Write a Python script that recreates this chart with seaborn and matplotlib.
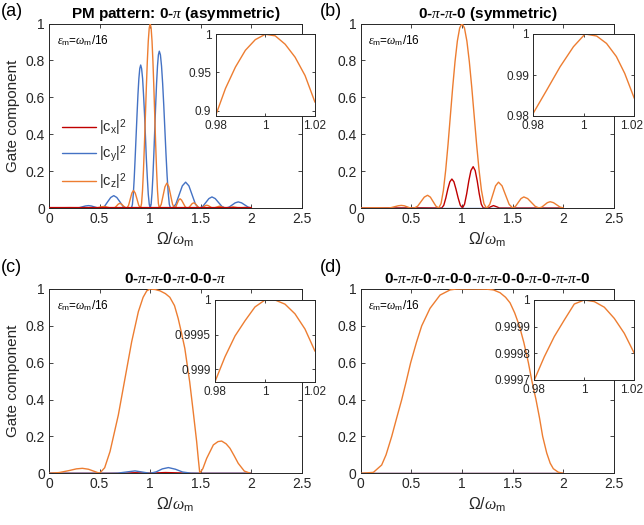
import matplotlib
matplotlib.use("Agg")
import matplotlib.pyplot as plt
import seaborn as sns
from matplotlib.ticker import FormatStrFormatter
from matplotlib.transforms import ScaledTranslation

# =========================
# DADOS
# =========================

# (a) PM pattern 0-pi
a_cx_x = [0, 2.0]
a_cx = [0, 0]
a_cy_x = [0, 0.15, 0.27, 0.30, 0.33, 0.36, 0.39, 0.418, 0.445, 0.473, 0.50,
          0.52, 0.55, 0.58, 0.61, 0.64, 0.67, 0.70, 0.73, 0.76, 0.79,
          0.815, 0.824, 0.833, 0.842, 0.851, 0.8605, 0.870, 0.879, 0.888, 0.897, 0.906,
          0.915, 0.925, 0.934, 0.944, 0.953, 0.962, 0.972, 0.981, 0.991, 1.0,
          1.009, 1.018, 1.027, 1.036, 1.045, 1.054, 1.063, 1.072, 1.081, 1.09,
          1.101, 1.112, 1.123, 1.134, 1.145, 1.156, 1.167, 1.178, 1.189, 1.2,
          1.22, 1.2525, 1.285, 1.3175, 1.35, 1.3825, 1.415, 1.4475, 1.48,
          1.49, 1.52, 1.55, 1.58, 1.61, 1.6425, 1.675, 1.7075, 1.74,
          1.75, 1.78, 1.81, 1.84, 1.87, 1.9025, 1.935, 1.9675, 2.0]
a_cy = [0, 0.001, 0, 0.002, 0.0065, 0.011, 0.013, 0.011, 0.0065, 0.002, 0,
        0, 0.010, 0.034, 0.057, 0.067, 0.057, 0.034, 0.010, 0, 0.001,
        0, 0.019, 0.074, 0.160, 0.267, 0.388, 0.508, 0.615, 0.701, 0.756, 0.775,
        0.756, 0.701, 0.615, 0.508, 0.388, 0.267, 0.160, 0.074, 0.019, 0,
        0.020, 0.081, 0.175, 0.293, 0.425, 0.557, 0.675, 0.769, 0.830, 0.85,
        0.830, 0.769, 0.675, 0.557, 0.425, 0.293, 0.175, 0.081, 0.020, 0,
        0, 0.020, 0.07, 0.12, 0.14, 0.12, 0.07, 0.020, 0,
        0, 0.009, 0.03, 0.051, 0.06, 0.051, 0.03, 0.009, 0,
        0, 0.005, 0.0165, 0.028, 0.033, 0.028, 0.0165, 0.005, 0]
a_cz_x = [0, 0.2, 0.46, 0.48, 0.50, 0.52, 0.54, 0.56, 0.58, 0.60, 0.62,
          0.64, 0.655, 0.67, 0.685, 0.70, 0.716, 0.7325, 0.749, 0.765,
          0.77, 0.786, 0.8025, 0.819, 0.835, 0.852, 0.87, 0.887, 0.905,
          0.9145, 0.924, 0.9335, 0.943, 0.9525, 0.962, 0.9715, 0.981, 0.9905, 1.0,
          1.009, 1.018, 1.027, 1.036, 1.045, 1.054, 1.063, 1.072, 1.081, 1.09,
          1.109, 1.1275, 1.146, 1.165, 1.184, 1.2025, 1.221, 1.24,
          1.254, 1.2675, 1.281, 1.295, 1.31, 1.3275, 1.345, 1.36,
          1.37, 1.385, 1.40, 1.415, 1.43, 1.445, 1.46, 1.475, 1.49,
          1.5, 1.515, 1.53, 1.545, 1.56, 1.575, 1.59, 1.605, 1.62,
          1.63, 1.6575, 1.685, 1.7125, 1.74, 1.76, 1.79, 1.82, 1.85, 1.88, 1.94, 2.0]
a_cz = [0, 0.002, 0, 0.0012, 0.004, 0.0068, 0.008, 0.0068, 0.004, 0.0012, 0,
        0, 0.0037, 0.0125, 0.0214, 0.025, 0.0214, 0.0125, 0.0037, 0,
        0, 0.0139, 0.0475, 0.0811, 0.095, 0.0811, 0.0475, 0.0139, 0,
        0.024, 0.095, 0.206, 0.345, 0.5, 0.655, 0.794, 0.905, 0.976, 1.0,
        0.976, 0.905, 0.794, 0.655, 0.5, 0.345, 0.206, 0.095, 0.024, 0,
        0.0197, 0.0675, 0.1153, 0.135, 0.1153, 0.0675, 0.0197, 0,
        0.0073, 0.025, 0.0427, 0.05, 0.0427, 0.025, 0.0073, 0,
        0, 0.0041, 0.014, 0.0239, 0.028, 0.0239, 0.014, 0.0041, 0,
        0, 0.0022, 0.0075, 0.0128, 0.015, 0.0128, 0.0075, 0.0022, 0,
        0, 0.005, 0.01, 0.005, 0, 0, 0.003, 0.006, 0.003, 0, 0.003, 0]
a_in_x = [0.98, 0.984, 0.988, 0.992, 0.996, 1.0, 1.004, 1.008, 1.012, 1.016, 1.02]
a_in_y = [0.893, 0.929, 0.957, 0.979, 0.993, 1.0, 0.998, 0.987, 0.970, 0.946, 0.911]

# (b) 0-pi-pi-0
b_cx_x = [0, 0.6, 0.80, 0.82, 0.84, 0.86, 0.88, 0.90, 0.92, 0.94, 0.962, 0.983, 1.005, 1.025,
          1.046, 1.067, 1.088, 1.11, 1.13, 1.15, 1.17, 1.19, 1.21, 1.26, 1.285, 1.31, 1.34,
          1.37, 2.0]
b_cx = [0, 0.001, 0, 0.015, 0.054, 0.103, 0.142, 0.157, 0.142, 0.103, 0.054, 0.015, 0, 0.021,
        0.077, 0.147, 0.203, 0.224, 0.203, 0.147, 0.077, 0.021, 0, 0, 0.007, 0.013, 0.007,
        0, 0]
b_cy_x = [0, 2.0]
b_cy = [0, 0]
b_cz_x = [0, 0.15, 0.27, 0.30, 0.335, 0.37, 0.40, 0.43, 0.455, 0.48, 0.51,
          0.53, 0.5625, 0.595, 0.6275, 0.66, 0.6875, 0.715, 0.7425, 0.77,
          0.793, 0.816, 0.839, 0.862, 0.885, 0.908, 0.931, 0.954, 0.977, 1.0,
          1.024, 1.048, 1.072, 1.096, 1.12, 1.144, 1.168, 1.192, 1.216, 1.24,
          1.245, 1.274, 1.3025, 1.331, 1.36, 1.395, 1.43, 1.465, 1.5,
          1.5275, 1.555, 1.5825, 1.61, 1.6475, 1.685, 1.7225, 1.76,
          1.7875, 1.815, 1.8425, 1.87, 1.9025, 1.935, 1.9675, 2.0]
b_cz = [0, 0.001, 0, 0.002, 0.007, 0.012, 0.014, 0.012, 0.007, 0.002, 0,
        0, 0.0101, 0.0345, 0.0589, 0.069, 0.0589, 0.0345, 0.0101, 0,
        0.024, 0.095, 0.206, 0.345, 0.5, 0.655, 0.794, 0.905, 0.976, 1.0,
        0.976, 0.905, 0.794, 0.655, 0.5, 0.345, 0.206, 0.095, 0.024, 0,
        0, 0.020, 0.07, 0.12, 0.14, 0.12, 0.07, 0.02, 0,
        0.0088, 0.03, 0.0512, 0.06, 0.0512, 0.03, 0.0088, 0,
        0.005, 0.017, 0.029, 0.034, 0.029, 0.017, 0.005, 0]
b_in_x = [0.98, 0.9853, 0.9906, 0.9959, 1.0005, 1.0051, 1.009, 1.0129, 1.0162, 1.02]
b_in_y = [0.9807, 0.9863, 0.992, 0.9969, 1.0, 0.9995, 0.9977, 0.9945, 0.9904, 0.9843]

# (c) 0-pi-pi-0-pi-0-0-pi
c_cx_x = [0, 0.7, 0.85, 1.0, 1.15, 1.3, 1.4, 2.0]
c_cx = [0, 0, 0.003, 0.001, 0.004, 0.002, 0, 0]
c_cy_x = [0, 0.6, 0.68, 0.75, 0.85, 0.93, 1.0, 1.06, 1.12, 1.18, 1.25, 1.32, 1.4, 1.5, 2.0]
c_cy = [0, 0, 0.001, 0.006, 0.013, 0.006, 0, 0.008, 0.024, 0.031, 0.022, 0.007, 0.001, 0, 0]
c_cz_x = [0, 0.1, 0.2, 0.27, 0.33, 0.39, 0.45, 0.5, 0.55, 0.603, 0.685, 0.751, 0.817, 0.883,
          0.93, 0.966, 1.0, 1.05, 1.097, 1.15, 1.194, 1.24, 1.276, 1.31, 1.342, 1.39, 1.425,
          1.459, 1.475, 1.49, 1.52, 1.558, 1.624, 1.67, 1.706, 1.75, 1.788, 1.83, 1.87, 1.93,
          1.99]
c_cz = [0, 0.004, 0.015, 0.024, 0.027, 0.022, 0.01, 0, 0.03, 0.118, 0.316, 0.515, 0.714, 0.877,
        0.955, 0.99, 1.0, 0.997, 0.99, 0.975, 0.955, 0.91, 0.841, 0.76, 0.678, 0.497, 0.335,
        0.172, 0.08, 0, 0.025, 0.081, 0.154, 0.172, 0.175, 0.16, 0.136, 0.095, 0.054, 0.012,
        0]
c_in_x = [0.98, 0.984, 0.988, 0.992, 0.996, 1.0, 1.004, 1.008, 1.012, 1.016, 1.02]
c_in_y = [0.99882, 0.99918, 0.99948, 0.99970, 0.99990, 1.0, 1.0, 0.99994, 0.99980, 0.99958,
          0.99926]

# (d) 0-pi-pi-0-pi-0-0-pi-pi-0-0-pi-0-pi-pi-0
d_cx_x = [0, 2.0]
d_cx = [0, 0]
d_cy_x = [0, 2.0]
d_cy = [0, 0]
d_cz_x = [0, 0.125, 0.207, 0.25, 0.306, 0.35, 0.405, 0.45, 0.493, 0.55, 0.602, 0.684, 0.783,
          0.882, 0.94, 1.0, 1.1, 1.243, 1.31, 1.375, 1.43, 1.474, 1.52, 1.566, 1.61, 1.655,
          1.69, 1.73, 1.765, 1.796, 1.836, 1.87, 1.901, 1.95, 2.0]
d_cz = [0, 0.005, 0.045, 0.1, 0.2, 0.29, 0.4, 0.5, 0.6, 0.71, 0.8, 0.895, 0.967,
        0.995, 0.9995, 1.0, 1.0, 0.999, 0.995, 0.98, 0.955, 0.925, 0.87, 0.8, 0.71, 0.6,
        0.5, 0.4, 0.3, 0.2, 0.11, 0.055, 0.025, 0.006, 0]
d_in_x = [0.98, 0.984, 0.988, 0.992, 0.996, 1.0, 1.004, 1.008, 1.012, 1.016, 1.02]
d_in_y = [0.9997, 0.999787, 0.999863, 0.999925, 0.999985, 1.0, 0.999994, 0.999973, 0.999931,
          0.999875, 0.9998]

titles = ["PM pattern: 0-$\\pi$ (asymmetric)", "0-$\\pi$-$\\pi$-0 (symmetric)",
          "0-$\\pi$-$\\pi$-0-$\\pi$-0-0-$\\pi$",
          "0-$\\pi$-$\\pi$-0-$\\pi$-0-0-$\\pi$-$\\pi$-0-0-$\\pi$-0-$\\pi$-$\\pi$-0"]
panel_labels = ["(a)", "(b)", "(c)", "(d)"]
leg_labels = ["|c$_{\\rm x}$|$^2$", "|c$_{\\rm y}$|$^2$", "|c$_{\\rm z}$|$^2$"]
inset_yticks = [[0.9, 0.95, 1.0], [0.98, 0.99, 1.0], [0.999, 0.9995, 1.0],
                [0.9997, 0.9998, 0.9999, 1.0]]
inset_ylims = [(0.893, 1.0), (0.98, 1.0), (0.99882, 1.0), (0.9997, 1.0)]

# =========================
# ESTILO
# =========================

sns.set_style("ticks")
plt.rcParams["font.family"] = ["Liberation Sans", "DejaVu Sans"]
plt.rcParams["mathtext.fontset"] = "custom"
plt.rcParams["mathtext.rm"] = "Liberation Sans"
plt.rcParams["mathtext.it"] = "Liberation Serif:italic"
plt.rcParams["mathtext.bf"] = "Liberation Sans:bold"

CX, CY, CZ = "#C00000", "#4472C4", "#ED7D31"
DARK = "#262626"


def style_axes(ax, fs, length):
    ax.tick_params(direction="in", top=True, right=True, length=length, width=0.6,
                   labelsize=fs, colors=DARK, pad=3)
    for s in ax.spines.values():
        s.set_visible(True)
        s.set_color(DARK)
        s.set_linewidth(0.7)


fig = plt.figure(figsize=(6.44, 5.25), dpi=100)
W, H = 644, 525

main_boxes = [(49, 23.5, 302, 208), (360.7, 23.5, 614, 208),
              (49, 289, 302, 473.3), (360.7, 289, 614, 473.3)]
inset_boxes = [(215.5, 34.3, 315, 116), (533.3, 34, 634.3, 116),
               (215, 300, 315, 381.7), (534.3, 300, 634.3, 380)]

series = [
    [(a_cx_x, a_cx, CX), (a_cy_x, a_cy, CY), (a_cz_x, a_cz, CZ)],
    [(b_cx_x, b_cx, CX), (b_cy_x, b_cy, CY), (b_cz_x, b_cz, CZ)],
    [(c_cx_x, c_cx, CX), (c_cy_x, c_cy, CY), (c_cz_x, c_cz, CZ)],
    [(d_cx_x, d_cx, CX), (d_cy_x, d_cy, CY), (d_cz_x, d_cz, CZ)],
]
insets = [(a_in_x, a_in_y), (b_in_x, b_in_y), (c_in_x, c_in_y), (d_in_x, d_in_y)]

for i in range(4):
    l, t, r, b = main_boxes[i]
    ax = fig.add_axes([l / W, 1 - b / H, (r - l) / W, (b - t) / H])
    for k, (xs, ys, col) in enumerate(series[i]):
        z = 5 if (i == 0 and k == 0) else 2 + k
        lw = 1.6 if (i == 0 and k == 0) else 1.0
        sns.lineplot(x=xs, y=ys, ax=ax, color=col, lw=lw, estimator=None, zorder=z,
                     label=leg_labels[k] if i == 0 else None)
    ax.set_xlim(0, 2.5)
    ax.set_ylim(0, 1)
    ax.set_xticks([0, 0.5, 1, 1.5, 2, 2.5])
    ax.set_yticks([0, 0.2, 0.4, 0.6, 0.8, 1])
    ax.xaxis.set_major_formatter(FormatStrFormatter("%g"))
    ax.yaxis.set_major_formatter(FormatStrFormatter("%g"))
    style_axes(ax, 10, 3)
    ax.set_xlabel("$\\Omega/\\omega_{\\rm m}$", fontsize=11.5, color=DARK, labelpad=3)
    if i in (0, 2):
        ax.set_ylabel("Gate component", fontsize=11, color=DARK, labelpad=4)
    else:
        ax.set_ylabel("")
    ax.set_title(titles[i], fontsize=11, fontweight="bold", color="black", pad=4)
    ax.text(0.03, 0.91, "$\\epsilon_{\\rm m}$=$\\omega_{\\rm m}$/16", transform=ax.transAxes,
            fontsize=8.5, color="black", va="center")
    if i == 0:
        leg = ax.legend(loc="upper left", bbox_to_anchor=(0.012, 0.55), frameon=False,
                        fontsize=10.5, handlelength=2.3, labelspacing=0.4, handletextpad=0.2,
                        borderpad=0.2)
        for line in leg.get_lines():
            line.set_linewidth(1.0)
    elif ax.get_legend() is not None:
        ax.get_legend().remove()

    lx = 1 / W if i in (0, 2) else 320 / W
    ly = 1 - (12 if i < 2 else 267) / H
    fig.text(lx, ly, panel_labels[i], fontsize=13, va="center", ha="left", color="black")

    # inset
    l, t, r, b = inset_boxes[i]
    axi = fig.add_axes([l / W, 1 - b / H, (r - l) / W, (b - t) / H])
    axi.set_facecolor("white")
    xs, ys = insets[i]
    sns.lineplot(x=xs, y=ys, ax=axi, color=CZ, lw=1.0, estimator=None)
    axi.set_xlim(0.98, 1.02)
    axi.set_ylim(*inset_ylims[i])
    axi.set_xticks([0.98, 1.0, 1.02])
    axi.set_yticks(inset_yticks[i])
    axi.xaxis.set_major_formatter(FormatStrFormatter("%g"))
    axi.yaxis.set_major_formatter(FormatStrFormatter("%g"))
    axi.set_xlabel("")
    axi.set_ylabel("")
    style_axes(axi, 8.5, 2.5)
    if i in (1, 3):
        # keep the right-most label inside the figure
        last = axi.get_xticklabels()[-1]
        last.set_transform(last.get_transform()
                           + ScaledTranslation(-2.5 / 100, 0, fig.dpi_scale_trans))

fig.savefig("out.png", dpi=100)
